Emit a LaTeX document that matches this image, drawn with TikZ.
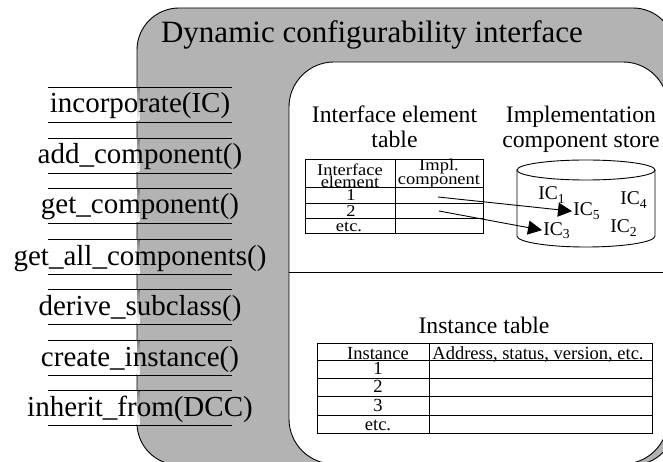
\documentclass[tikz,border=0pt]{standalone}
\usepackage{fontspec}
\setmainfont{Liberation Serif}
\usepackage{graphicx}
\usetikzlibrary{arrows.meta}
\definecolor{shade}{RGB}{179,179,179}
\newcommand\hsqz[1]{\scalebox{1.12}[1]{#1}}
\begin{document}
\begin{tikzpicture}[x=1pt,y=-1pt,line width=0.9pt,
  lbl/.style={inner sep=0pt,anchor=base},
  menufont/.style={font=\fontsize{29}{33}\selectfont},
  titlefont/.style={font=\fontsize{31}{35}\selectfont},
  headfont/.style={font=\fontsize{23.7}{27}\selectfont},
  tabfont/.style={font=\fontsize{16.5}{12}\selectfont},
  insfont/.style={font=\fontsize{18.5}{20}\selectfont},
  icfont/.style={font=\fontsize{19.5}{22}\selectfont},
  conn/.style={-{Triangle[length=14pt,width=14pt]},line width=0.9pt}]
\useasboundingbox (0,0) rectangle (663,462);
\begin{scope}
\clip (0,0) rectangle (663,462);
\draw[fill=shade,rounded corners=42pt] (137,8) rectangle (675,465);
\draw[fill=white,rounded corners=45pt] (289,62) rectangle (668,464);
\draw (289,272) -- (668,272);
\end{scope}
% title
\node[lbl,titlefont] (title) at (372,43) {Dynamic configurability interface};
% menu items
\foreach \t/\txt/\i in {87/incorporate(IC)/1,138/add\_component()/2,188/get\_component()/3,239/get\_all\_components()/4,289/derive\_subclass()/5,340/create\_instance()/6,390/inherit\_from(DCC)/7}{
  \fill[white] (135,\t+1) rectangle (137,\t+34);
  \fill[shade] (137,\t+1) rectangle (139.5,\t+34);
  \draw (48,\t) -- (232,\t) (48,\t+35) -- (232,\t+35);
  \node[lbl,menufont] (m\i) at (140,\t+26) {\txt};
}
% interface element table
\node[lbl,headfont] (iet1) at (394.5,123) {Interface element};
\node[lbl,headfont] (iet2) at (394.5,148) {table};
\draw (305,159) rectangle (483,233);
\draw (395,159) -- (395,233);
\foreach \y in {187,203,218} \draw (305,\y) -- (483,\y);
\node[lbl,tabfont,align=center,anchor=south] (h1) at (350,188.5) {\hsqz{Interface}\\\hsqz{element}};
\node[lbl,tabfont,align=center,anchor=south] (h2) at (439,188.5) {\hsqz{Impl.}\\\hsqz{component}};
\node[lbl,tabfont,text height=9pt] (r1) at (351,201) {\hsqz{1}};
\node[lbl,tabfont,text height=9pt] (r2) at (351,217) {\hsqz{2}};
\node[lbl,tabfont,text height=9pt] (r3) at (349,232) {\hsqz{etc.}};
\coordinate (s1) at (438,197);
\coordinate (s2) at (439,211);
% implementation component store
\node[lbl,headfont] (ics1) at (581,123) {Implementation};
\node[lbl,headfont] (ics2) at (581,148) {component store};
\draw[fill=white] (517,170) -- (517,236) arc[start angle=180,end angle=360,x radius=69pt,y radius=11pt] -- (655,170);
\draw (586,170) ellipse[x radius=69pt,y radius=10pt];
\node[lbl,icfont,anchor=base west] (ic1) at (538,200) {IC\textsubscript{1}};
\node[lbl,icfont,anchor=base west] (ic4) at (620,205) {IC\textsubscript{4}};
\node[lbl,icfont,anchor=base west,inner sep=1pt] (ic5) at (572,216) {IC\textsubscript{5}};
\node[lbl,icfont,anchor=base west,inner sep=1pt] (ic3) at (542,235) {IC\textsubscript{3}};
\node[lbl,icfont,anchor=base west] (ic2) at (610,233) {IC\textsubscript{2}};
\draw[conn] (s1) -- (ic5.west);
\draw[conn] (s2) -- (ic3.west);
% instance table
\node[lbl,headfont] (itl) at (484,333) {Instance table};
\draw (317,343) rectangle (652,433);
\draw (429,343) -- (429,433);
\foreach \y in {360,378,396,415} \draw (317,\y) -- (652,\y);
\node[lbl,insfont,text depth=0pt] (ih1) at (378,359.5) {Instance};
\node[lbl,insfont,text depth=0pt] (ih2) at (538,359.5) {Address, status, version, etc.};
\node[lbl,insfont,text height=11pt,text depth=0pt] (i1) at (378,374) {1};
\node[lbl,insfont,text height=11pt,text depth=0pt] (i2) at (378,392) {2};
\node[lbl,insfont,text height=11pt,text depth=0pt] (i3) at (378,411) {3};
\node[lbl,insfont,text height=11pt,text depth=0pt] (i4) at (378,430) {etc.};
\end{tikzpicture}
\end{document}
